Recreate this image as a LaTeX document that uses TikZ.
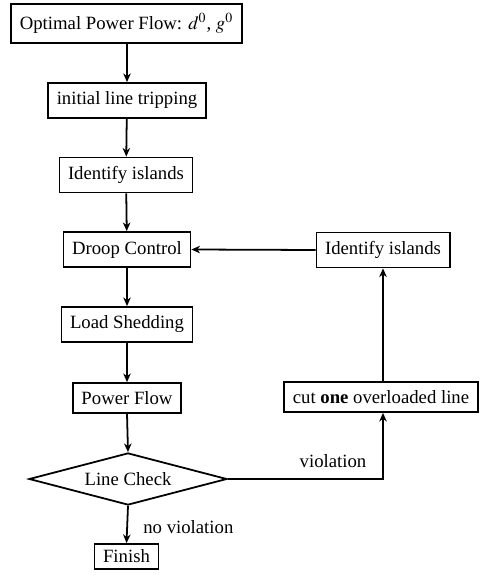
\documentclass[tikz,border=0pt]{standalone}
\usepackage{mathptmx}
\usepackage{fontspec}
\setmainfont{Liberation Serif}[BoldFont={Liberation Serif Bold}]
\usetikzlibrary{shapes.geometric,arrows.meta}
\begin{document}
\begin{tikzpicture}[x=0.534pt,y=-0.534pt,
  box/.style={draw,line width=0.95pt,rectangle,inner xsep=4.6pt,inner ysep=0pt,minimum height=18.7pt,font=\fontsize{10}{12}\selectfont},
  chk/.style={draw,line width=0.95pt,diamond,aspect=4,inner sep=1pt,minimum width=105.7pt,minimum height=27.8pt,font=\fontsize{10}{12}\selectfont},
  arr/.style={line width=0.95pt,-{Stealth[length=4.6pt,width=4pt,inset=1.4pt]}},
  lbl/.style={font=\fontsize{10}{12}\selectfont,inner sep=0pt}]
\useasboundingbox (0,0) rectangle (479,581);
\node[box,minimum height=20.8pt] (opf) at (126.5,23.5) {Optimal Power Flow: $d^0$, $g^0$};
\node[box] (trip) at (127,100.5) {initial line tripping};
\node[box] (isl1) at (126,175) {Identify islands};
\node[box] (droop) at (127,249.5) {Droop Control};
\node[box] (shed) at (127,324.5) {Load Shedding};
\node[box,minimum height=16pt] (pf) at (127,398) {Power Flow};
\node[chk] (check) at (128,479) {Line Check};
\node[box,minimum height=13.4pt] (fin) at (126.5,556.5) {Finish};
\node[box] (isl2) at (383,250) {Identify islands};
\node[box,minimum height=16pt] (cut) at (381,397) {cut \textbf{one} overloaded line};
\coordinate (corner) at (383,479);
\node[lbl] (viol) at (333,461) {violation};
\node[lbl,anchor=west] (noviol) at (143,527) {no violation};
\draw[arr] (opf.south -| trip) -- (trip.north);
\draw[arr] (trip) -- (isl1);
\draw[arr] (isl1) -- (droop);
\draw[arr] (droop) -- (shed);
\draw[arr] (shed) -- (pf);
\draw[arr] (pf.south) -- (check.north);
\draw[arr] (check.south) -- (fin.north);
\draw[arr] (check.east) -- (corner) -- (corner |- cut.south);
\draw[arr] (corner |- cut.north) -- (isl2.south);
\draw[arr] (isl2.west) -- (droop.east);
\end{tikzpicture}
\end{document}
